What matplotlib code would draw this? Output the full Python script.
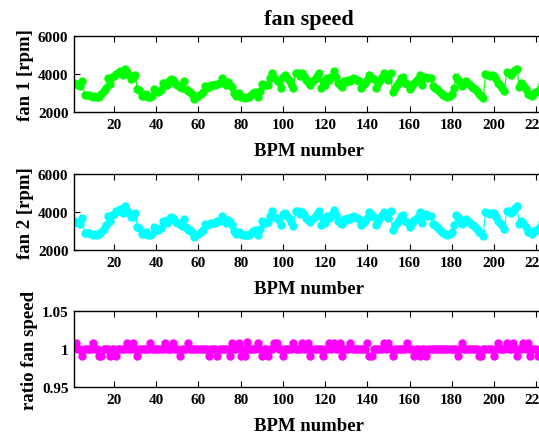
import numpy as np
import matplotlib
matplotlib.use('Agg')
import matplotlib.pyplot as plt

# fan 1 speed per BPM, BPM 1..224
fan1 = [3550, 3500, 3450, 3400, 3650, 2900, 2900, 2900, 2850, 2800,
        2850, 2800, 2800, 2950, 3100, 3300, 3800, 3500, 3850, 3900,
        4000, 4050, 4150, 3950, 4300, 4100, 3950, 3750, 3800, 3950,
        3200, 3150, 2850, 2850, 2950, 2800, 2800, 2850, 3200, 3100,
        3050, 3150, 3550, 3550, 3450, 3650, 3750, 3700, 3550, 3450,
        3350, 3250, 3650, 3200, 3100, 3050, 2950, 2700, 2800, 2850,
        2950, 3050, 3400, 3300, 3350, 3450, 3450, 3450, 3500, 3550,
        3800, 3600, 3450, 3600, 3450, 3350, 3000, 2850, 3000, 2800,
        2800, 2750, 2800, 2800, 2900, 3000, 3050, 2800, 3100, 3500,
        3450, 3450, 3450, 3800, 4050, 3800, 3700, 3600, 3300, 3850,
        3950, 3800, 3700, 3500, 3300, 4050, 4050, 3900, 4050, 3900,
        3700, 3600, 3450, 3650, 3750, 3900, 4050, 3300, 3650, 3450,
        3800, 3700, 3850, 4150, 3850, 3550, 3450, 3350, 3650, 3600,
        3700, 3650, 3800, 3750, 3700, 3650, 3300, 3450, 3550, 3700,
        3950, 3800, 3750, 3300, 3550, 3700, 3850, 4050, 3850, 3700,
        4050, 3050, 3300, 3450, 3600, 3800, 3850, 3550, 3500, 3200,
        3450, 3550, 3650, 3750, 3950, 3450, 3800, 3850, 3800, 3800,
        3400, 3300, 3200, 3100, 3000, 2900, 2850, 2800, 2850, 2950,
        3300, 3850, 3700, 3600, 3400, 3500, 3650, 3500, 3400, 3300,
        3200, 3100, 2950, 2850, 2750, 4000, 3950, 3900, 3950, 3900,
        3750, 3550, 3450, 3300, 3100, 4100, 4050, 3950, 4100, 4200,
        4300, 3350, 3550, 3450, 3200, 2950, 2900, 2850, 3000, 3050,
        3100, 3200, 3500, 3600]

# ratio fan1/fan2: mostly 1, a few BPMs slightly above / below
ratio_base = 1.0
ratio_high_bpm = [2, 10, 26, 29, 37, 44, 48, 55, 76, 79, 88, 96, 97, 105, 109,
                  112, 122, 124, 127, 132, 140, 148, 150, 159, 185, 202, 206,
                  209, 214, 216]
ratio_high = 1.008
ratio_peak_bpm = [83]
ratio_peak = 1.010
ratio_low_bpm = [5, 13, 14, 18, 21, 31, 51, 65, 69, 75, 80, 82, 90, 93, 100,
                 113, 119, 128, 141, 142, 152, 162, 165, 168, 183, 193, 194,
                 200, 211, 217, 221]
ratio_low = 0.991

bpm = np.arange(1, len(fan1) + 1)
ratio = np.full(len(fan1), ratio_base)
ratio[np.array(ratio_high_bpm) - 1] = ratio_high
ratio[np.array(ratio_peak_bpm) - 1] = ratio_peak
ratio[np.array(ratio_low_bpm) - 1] = ratio_low
fan2 = np.array(fan1) / ratio

plt.rcParams['font.family'] = ['Liberation Serif', 'DejaVu Serif']
plt.rcParams['font.weight'] = 'bold'

fig = plt.figure(figsize=(5.39, 4.35), dpi=100)
L, W, H = 0.1373, 0.873, 0.174
ax1 = fig.add_axes([L, 0.740, W, H])
ax2 = fig.add_axes([L, 0.423, W, H])
ax3 = fig.add_axes([L, 0.108, W, H])

series = [(ax1, fan1, '#00ff00', 'fan 1 [rpm]'),
          (ax2, fan2, '#00ffff', 'fan 2 [rpm]'),
          (ax3, ratio, '#ff00ff', 'ratio fan speed')]
for ax, y, col, lab in series:
    ax.plot(bpm, y, '-o', color=col, lw=0.8, ms=5, mec=col)
    ax.set_xlim(1, 224)
    ax.set_xticks(range(20, 221, 20))
    ax.set_xlabel('BPM number', fontsize=13.5, fontweight='bold', labelpad=8)
    ax.set_ylabel(lab, fontsize=13.5, fontweight='bold', labelpad=3)
    ax.tick_params(direction='in', top=True, right=True, labelsize=11,
                   length=4, width=0.8, pad=4)
    for lbl in ax.get_xticklabels() + ax.get_yticklabels():
        lbl.set_fontweight('bold')
    for s in ax.spines.values():
        s.set_linewidth(1.0)

for ax in (ax1, ax2):
    ax.set_ylim(2000, 6000)
    ax.set_yticks([2000, 4000, 6000])
ax3.set_ylim(0.95, 1.05)
ax3.set_yticks([0.95, 1.0, 1.05])
ax3.set_yticklabels(['0.95', '1', '1.05'], fontweight='bold')

ax1.set_title('fan speed', fontsize=16, fontweight='bold', pad=9)

fig.savefig('out.png', dpi=100)
